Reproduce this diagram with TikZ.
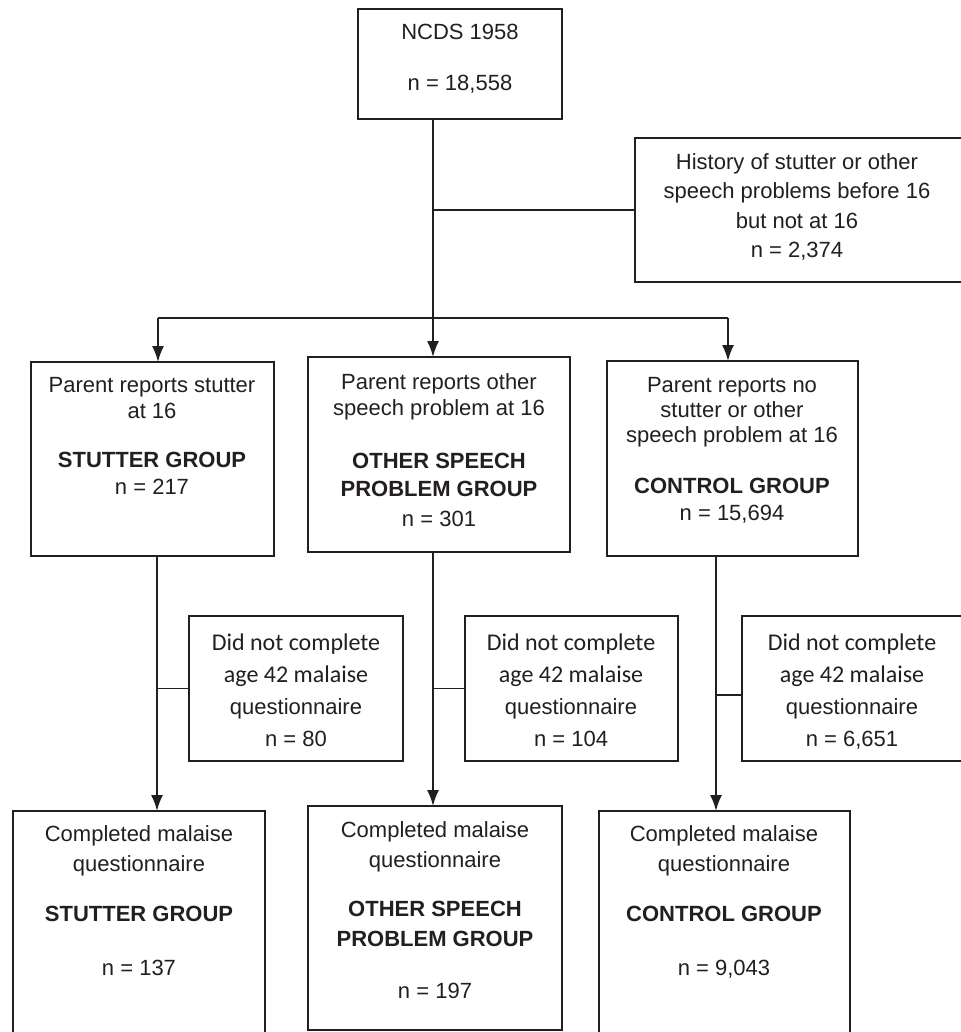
\documentclass[tikz,border=0pt]{standalone}
\usepackage{fontspec}
\setmainfont{Liberation Sans}
\newfontfamily\carlito{Carlito}
\usetikzlibrary{arrows.meta}
\definecolor{ink}{HTML}{231F20}
\tikzset{
  box/.style={draw=ink, line width=1.8pt, inner sep=0pt, outer sep=0pt, fill=none},
  txt/.style={text=ink, align=center, inner sep=0pt, anchor=north, font=\fontsize{22}{26}\selectfont},
  conn/.style={draw=ink, line width=1.8pt},
  arr/.style={conn, -{Latex[length=16pt,width=12pt]}}
}
\newcommand{\boxat}[5]{%
  \node[box, minimum width={#4-#2}, minimum height={#5-#3}] (#1) at ({(#2+#4)/2},{(#3+#5)/2}) {};}
\begin{document}
\begin{tikzpicture}[x=1pt,y=-1pt]
\useasboundingbox[fill=white] (0,0) rectangle (960,1032);

% boxes
\boxat{top}{358}{9}{562}{119}
\boxat{hist}{635}{138}{968}{282}
\boxat{pl}{31}{362}{274}{556}
\boxat{pm}{308}{357}{570}{552}
\boxat{pr}{607}{361}{858}{556}
\boxat{da}{189}{616}{403}{761}
\boxat{db}{465}{616}{678}{761}
\boxat{dc}{742}{616}{968}{761}
\boxat{bl}{13}{811}{265}{1045}
\boxat{bm}{308}{806}{562}{1030}
\boxat{br}{599}{811}{850}{1045}

% texts
\node[txt] (tTop) at (460,24) {NCDS 1958\\[25pt]n = 18,558};
\node[txt, font=\fontsize{22}{29.5}\selectfont] (tHist) at (797,153)
  {History of stutter or other\\speech problems before 16\\but not at 16\\n = 2,374};
\node[txt] (tPl) at (152,377) {Parent reports stutter\\at 16\\[23pt]{\bfseries STUTTER GROUP}\\[1pt]n = 217};
\node[txt] (tPm) at (439,373) {Parent reports other\\speech problem at 16\\[27pt]{\bfseries OTHER SPEECH}\\[2pt]{\bfseries PROBLEM GROUP}\\[4pt]n = 301};
\node[txt, font=\fontsize{22}{25}\selectfont] (tPr) at (732,377) {Parent reports no\\stutter or other\\speech problem at 16\\[26pt]{\bfseries CONTROL GROUP}\\[2pt]n = 15,694};

\node[txt, font=\fontsize{22}{32}\selectfont] (tDa) at (296,634)
  {{\carlito\fontsize{24}{32}\selectfont Did not complete}\\{\carlito\fontsize{24}{32}\selectfont age 42 malaise}\\questionnaire\\n = 80};
\node[txt, font=\fontsize{22}{32}\selectfont] (tDb) at (571,634)
  {{\carlito\fontsize{24}{32}\selectfont Did not complete}\\{\carlito\fontsize{24}{32}\selectfont age 42 malaise}\\questionnaire\\n = 104};
\node[txt, font=\fontsize{22}{32}\selectfont] (tDc) at (852,634)
  {{\carlito\fontsize{24}{32}\selectfont Did not complete}\\{\carlito\fontsize{24}{32}\selectfont age 42 malaise}\\questionnaire\\n = 6,651};

\node[txt, font=\fontsize{22}{30}\selectfont] (tBl) at (139,825)
  {Completed malaise\\questionnaire\\[20pt]{\bfseries STUTTER GROUP}\\[24pt]n = 137};
\node[txt, font=\fontsize{22}{30}\selectfont] (tBm) at (435,821)
  {Completed malaise\\questionnaire\\[19pt]{\bfseries OTHER SPEECH}\\{\bfseries PROBLEM GROUP}\\[22pt]n = 197};
\node[txt, font=\fontsize{22}{30}\selectfont] (tBr) at (724,825)
  {Completed malaise\\questionnaire\\[20pt]{\bfseries CONTROL GROUP}\\[24pt]n = 9,043};

% connector coordinates
\coordinate (tk) at (433,318);
\coordinate (lb) at (158,318);
\coordinate (rb) at (728,318);
\coordinate (la) at (157,0);
\coordinate (lm) at (433,0);
\coordinate (lr) at (716,0);
\coordinate (jc) at (716,695);

% upper connectors
\draw[arr] (top.south -| tk) -- (pm.north -| tk);
\draw[conn] (tk |- hist.west) -- (hist.west);
\draw[conn] (lb) -- (rb);
\draw[arr] (lb) -- (pl.north -| lb);
\draw[arr] (rb) -- (pr.north -| rb);

% lower connectors
\draw[arr] (pl.south -| la) -- (bl.north -| la);
\draw[arr] (pm.south -| lm) -- (bm.north -| lm);
\draw[arr] (pr.south -| lr) -- (br.north -| lr);
\draw[conn] (la |- da.west) -- (da.west);
\draw[conn] (lm |- db.west) -- (db.west);
\draw[conn] (jc) -- (dc.west |- jc);
\end{tikzpicture}
\end{document}
